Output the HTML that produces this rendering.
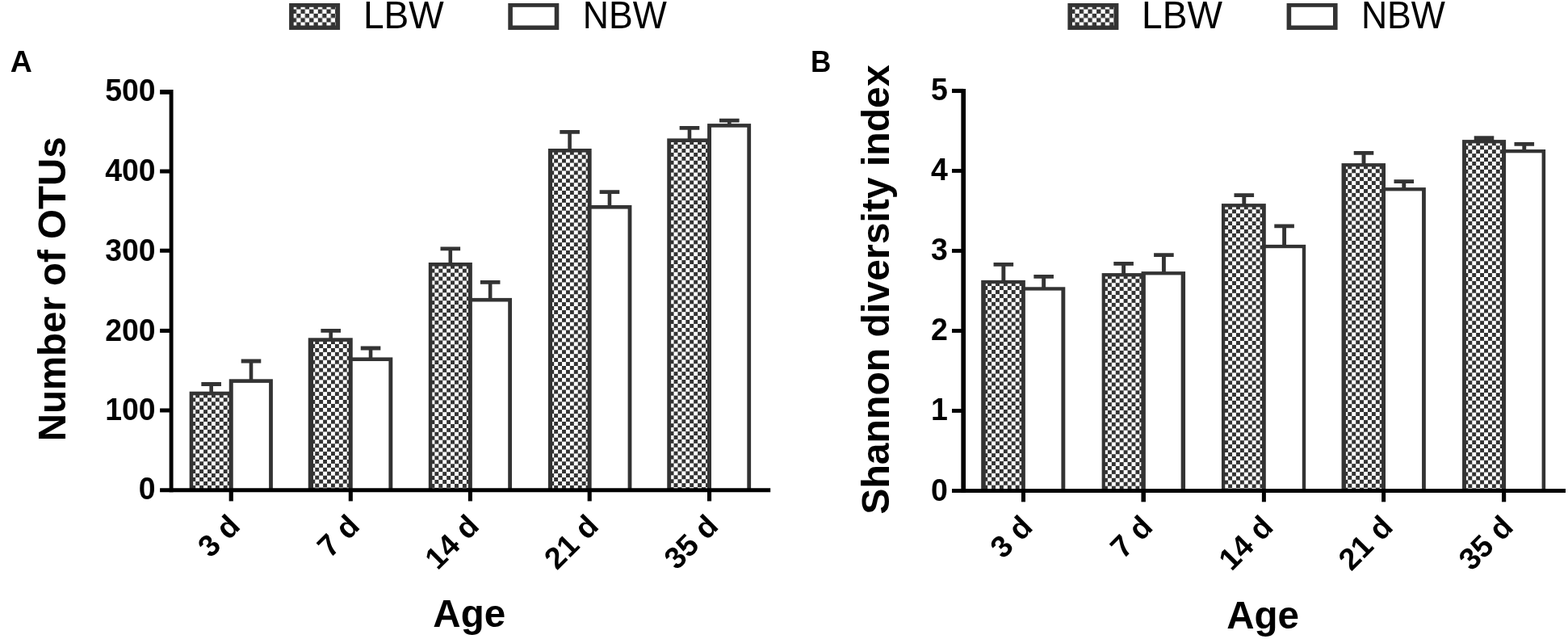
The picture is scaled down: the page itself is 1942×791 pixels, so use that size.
<!DOCTYPE html>
<html lang="en"><head><meta charset="utf-8"><title>Figure: Number of OTUs and Shannon diversity index by age (LBW vs NBW)</title>
<style>
html,body{margin:0;padding:0;background:#fff;}
body{width:1942px;height:791px;overflow:hidden;}
svg{display:block;font-family:"Liberation Sans",Arial,Helvetica,sans-serif;}
text{fill:#000;}
</style></head><body>
<svg width="1942" height="791" viewBox="0 0 1942 791">
<defs>
<pattern id="chk" width="9.86" height="9.86" patternUnits="userSpaceOnUse" x="2.63" y="2.77">
<rect width="9.86" height="9.86" fill="#fff"/><rect x="4.93" y="0" width="4.93" height="4.93" fill="#333333"/><rect x="0" y="4.93" width="4.93" height="4.93" fill="#333333"/>
</pattern>
<pattern id="chk2" width="10.66" height="10.66" patternUnits="userSpaceOnUse" x="3.71" y="2.2">
<rect width="10.66" height="10.66" fill="#fff"/><rect x="5.33" y="0" width="5.33" height="5.33" fill="#333333"/><rect x="0" y="5.33" width="5.33" height="5.33" fill="#333333"/>
</pattern>
</defs>
<rect width="1942" height="791" fill="#fff"/>
<g id="barsA">
<path d="M249.35 473.1h24.6v4.8h-10V485.7h-4.6V477.9h-10z" fill="#333333"/>
<rect x="234.65" y="484.7" width="54.1" height="122.05" fill="#333333"/><g transform="translate(234.65 484.7)"><rect x="4.6" y="4.6" width="44.5" height="117.45" fill="url(#chk)"/></g>
<path d="M298.7 444.6h24.6v4.8h-10V470.3h-4.6V449.4h-10z" fill="#333333"/>
<rect x="283.75" y="469.3" width="54.15" height="137.45" fill="#333333"/><g transform="translate(283.75 469.3)"><rect x="5" y="4.6" width="44.35" height="132.85" fill="#fff"/></g>
<path d="M397.4 406.9h24.6v4.8h-10V419.3h-4.6V411.7h-10z" fill="#333333"/>
<rect x="381.75" y="418.3" width="55" height="188.45" fill="#333333"/><g transform="translate(382.7 418.3)"><rect x="5.35" y="4.6" width="43.8" height="183.85" fill="url(#chk)"/></g>
<path d="M446.75 428.6h24.6v4.8h-10V443.4h-4.6V433.4h-10z" fill="#333333"/>
<rect x="431.85" y="442.4" width="54.45" height="164.35" fill="#333333"/><g transform="translate(431.85 442.4)"><rect x="4.9" y="4.6" width="44.65" height="159.75" fill="#fff"/></g>
<path d="M545.5 305.4h24.6v4.8h-10V326h-4.6V310.2h-10z" fill="#333333"/>
<rect x="530.8" y="325" width="54.05" height="281.75" fill="#333333"/><g transform="translate(530.8 325)"><rect x="4.5" y="4.6" width="44.65" height="277.15" fill="url(#chk)"/></g>
<path d="M594.85 346.9h24.6v4.8h-10V369.9h-4.6V351.7h-10z" fill="#333333"/>
<rect x="579.95" y="368.9" width="54.05" height="237.85" fill="#333333"/><g transform="translate(579.95 368.9)"><rect x="4.9" y="4.6" width="44.35" height="233.25" fill="#fff"/></g>
<path d="M693.3 161h24.6v4.8h-10V185h-4.6V165.8h-10z" fill="#333333"/>
<rect x="678.9" y="184" width="53.75" height="422.75" fill="#333333"/><g transform="translate(678.6 184)"><rect x="5.5" y="4.6" width="43.65" height="418.15" fill="url(#chk)"/></g>
<path d="M742.65 235.3h24.6v4.8h-10V255h-4.6V240.1h-10z" fill="#333333"/>
<rect x="727.75" y="254" width="54.65" height="352.75" fill="#333333"/><g transform="translate(727.75 254)"><rect x="4.9" y="4.6" width="44.95" height="348.15" fill="#fff"/></g>
<path d="M841.65 156h24.6v4.8h-10V172.4h-4.6V160.8h-10z" fill="#333333"/>
<rect x="826.25" y="171.4" width="54.75" height="435.35" fill="#333333"/><g transform="translate(826.95 171.4)"><rect x="4.2" y="4.6" width="44.95" height="430.75" fill="url(#chk)"/></g>
<path d="M891 146.7h24.6v4.8h-10V154.1h-4.6V151.5h-10z" fill="#333333"/>
<rect x="876.1" y="153.1" width="54" height="453.65" fill="#333333"/><g transform="translate(876.1 153.1)"><rect x="4.9" y="4.6" width="44.3" height="449.05" fill="#fff"/></g>
</g>
<g id="axesA" fill="#000">
<rect x="209.65" y="111" width="4.9" height="498.25"/>
<rect x="198.1" y="604.25" width="756.1" height="5"/>
<rect x="198.1" y="505.5" width="14" height="5"/>
<rect x="198.1" y="406.9" width="14" height="5"/>
<rect x="198.1" y="307.75" width="14" height="5"/>
<rect x="198.1" y="209.55" width="14" height="5"/>
<rect x="198.1" y="111.03" width="14" height="5.75"/>
<rect x="283.65" y="606.75" width="5.2" height="13.65"/>
<rect x="431.75" y="606.75" width="5.1" height="13.65"/>
<rect x="579.85" y="606.75" width="5.1" height="13.65"/>
<rect x="727.65" y="606.75" width="5.1" height="13.65"/>
<rect x="876" y="606.75" width="5.1" height="13.65"/>
</g>
<g id="labelsA">
<text transform="translate(192.6 618.35) scale(1.0000 1.0350)" text-anchor="end" font-size="37.4" font-weight="bold">0</text>
<text transform="translate(192.6 519.7) scale(1.0000 1.0350)" text-anchor="end" font-size="37.4" font-weight="bold">100</text>
<text transform="translate(192.6 421.5) scale(1.0000 1.0350)" text-anchor="end" font-size="37.4" font-weight="bold">200</text>
<text transform="translate(192.6 323.3) scale(1.0000 1.0350)" text-anchor="end" font-size="37.4" font-weight="bold">300</text>
<text transform="translate(192.6 223.9) scale(1.0000 1.0350)" text-anchor="end" font-size="37.4" font-weight="bold">400</text>
<text transform="translate(192.6 125.2) scale(1.0000 1.0350)" text-anchor="end" font-size="37.4" font-weight="bold">500</text>
<text transform="translate(299.25 653.3) rotate(-45)" text-anchor="end" font-size="37.7" font-weight="bold">3 d</text>
<text transform="translate(447.3 653.3) rotate(-45)" text-anchor="end" font-size="37.7" font-weight="bold">7 d</text>
<text transform="translate(595.4 653.3) rotate(-45)" text-anchor="end" font-size="37.7" font-weight="bold">14 d</text>
<text transform="translate(743.2 653.3) rotate(-45)" text-anchor="end" font-size="37.7" font-weight="bold">21 d</text>
<text transform="translate(891.55 653.3) rotate(-45)" text-anchor="end" font-size="37.7" font-weight="bold">35 d</text>
<text transform="translate(581.2 776.1) scale(1.0000 1.0200)" text-anchor="middle" font-size="47.5" font-weight="bold">Age</text>
<text transform="translate(80.9 357.9) rotate(-90) scale(1.0000 1.0200)" text-anchor="middle" font-size="47.45" font-weight="bold">Number of OTUs</text>
<text transform="translate(12.7 88.7)" text-anchor="start" font-size="37.5" font-weight="bold">A</text>
<text transform="translate(449.9 34.5) scale(1.0000 1.0260)" text-anchor="start" font-size="46.05">LBW</text>
<text transform="translate(721.7 34.5) scale(0.9690 1.0260)" text-anchor="start" font-size="46.05">NBW</text>
</g>
<g id="legendA">
<g transform="translate(358.1 4)"><rect width="63" height="32.95" fill="#333333"/><rect x="5.6" y="4.8" width="51.8" height="22.7" fill="url(#chk2)"/></g>
<g transform="translate(629.3 4)"><rect width="63" height="32.95" fill="#333333"/><rect x="5.6" y="4.8" width="51.8" height="22.7" fill="#fff"/></g>
</g>
<g id="barsB">
<path d="M1230.55 325h24.6v4.8h-9.85V347.9h-4.9V329.8h-9.85z" fill="#333333"/>
<rect x="1215.2" y="346.9" width="54.65" height="260.6" fill="#333333"/><g transform="translate(1215.6 346.4)"><rect x="5.2" y="4.8" width="44.25" height="256.3" fill="url(#chk)"/></g>
<path d="M1280.35 340h24.6v4.8h-9.85V356.3h-4.9V344.8h-9.85z" fill="#333333"/>
<rect x="1265.05" y="355.3" width="54.25" height="252.2" fill="#333333"/><g transform="translate(1265.05 354.8)"><rect x="4.8" y="4.8" width="44.55" height="247.9" fill="#fff"/></g>
<path d="M1379.3 323.9h24.6v4.8h-9.85V339.1h-4.9V328.7h-9.85z" fill="#333333"/>
<rect x="1364.65" y="338.1" width="54.2" height="269.4" fill="#333333"/><g transform="translate(1364.35 337.6)"><rect x="4.5" y="4.8" width="44.7" height="265.1" fill="url(#chk)"/></g>
<path d="M1429.1 313.3h24.6v4.8h-9.85V337.1h-4.9V318.1h-9.85z" fill="#333333"/>
<rect x="1413.55" y="336.1" width="54.5" height="271.4" fill="#333333"/><g transform="translate(1413.55 335.6)"><rect x="5.3" y="4.8" width="43.8" height="267.1" fill="#fff"/></g>
<path d="M1528.5 239.3h24.6v4.8h-9.85V253.1h-4.9V244.1h-9.85z" fill="#333333"/>
<rect x="1512.95" y="252.1" width="54.85" height="355.4" fill="#333333"/><g transform="translate(1513.55 251.6)"><rect x="3.7" y="4.8" width="45.75" height="351.1" fill="url(#chk)"/></g>
<path d="M1578.3 277.4h24.6v4.8h-9.85V303.9h-4.9V282.2h-9.85z" fill="#333333"/>
<rect x="1563" y="302.9" width="54.2" height="304.6" fill="#333333"/><g transform="translate(1563 302.4)"><rect x="4.8" y="4.8" width="45" height="300.3" fill="#fff"/></g>
<path d="M1676.7 186.9h24.6v4.8h-9.85V203.1h-4.9V191.7h-9.85z" fill="#333333"/>
<rect x="1661.55" y="202.1" width="54.45" height="405.4" fill="#333333"/><g transform="translate(1661.75 201.6)"><rect x="5.2" y="4.8" width="44.25" height="401.1" fill="url(#chk)"/></g>
<path d="M1726.5 222.3h24.6v4.8h-9.85V233.1h-4.9V227.1h-9.85z" fill="#333333"/>
<rect x="1711.2" y="232.1" width="54.65" height="375.4" fill="#333333"/><g transform="translate(1711.2 231.6)"><rect x="4.8" y="4.8" width="45.05" height="371.1" fill="#fff"/></g>
<rect x="1825.7" y="168.3" width="24.6" height="5.8" fill="#333333"/>
<rect x="1811.05" y="173.1" width="54.05" height="434.4" fill="#333333"/><g transform="translate(1810.75 172.6)"><rect x="5.2" y="4.8" width="44.15" height="430.1" fill="url(#chk)"/></g>
<path d="M1875.5 176h24.6v4.8h-9.85V186h-4.9V180.8h-9.85z" fill="#333333"/>
<rect x="1860.1" y="185" width="54.05" height="422.5" fill="#333333"/><g transform="translate(1860.1 184.5)"><rect x="5" y="4.8" width="44.5" height="418.2" fill="#fff"/></g>
</g>
<g id="axesB" fill="#000">
<rect x="1190.35" y="110" width="5.7" height="499.95"/>
<rect x="1179" y="605.05" width="760" height="4.9"/>
<rect x="1179" y="506.06" width="14.2" height="4.85"/>
<rect x="1179" y="407.06" width="14.2" height="4.85"/>
<rect x="1179" y="308.04" width="14.2" height="4.85"/>
<rect x="1179" y="209.03" width="14.2" height="4.85"/>
<rect x="1179" y="109.85" width="14.2" height="5.2"/>
<rect x="1264.95" y="607.5" width="5" height="13.8"/>
<rect x="1413.45" y="607.5" width="5.5" height="13.8"/>
<rect x="1562.9" y="607.5" width="5" height="13.8"/>
<rect x="1711.1" y="607.5" width="5" height="13.8"/>
<rect x="1860" y="607.5" width="5.2" height="13.8"/>
</g>
<g id="labelsB">
<text transform="translate(1173.8 619.5) scale(1.0000 1.0500)" text-anchor="end" font-size="37.5" font-weight="bold">0</text>
<text transform="translate(1173.8 520.46) scale(1.0000 1.0500)" text-anchor="end" font-size="37.5" font-weight="bold">1</text>
<text transform="translate(1173.8 421.42) scale(1.0000 1.0500)" text-anchor="end" font-size="37.5" font-weight="bold">2</text>
<text transform="translate(1173.8 322.38) scale(1.0000 1.0500)" text-anchor="end" font-size="37.5" font-weight="bold">3</text>
<text transform="translate(1173.8 223.34) scale(1.0000 1.0500)" text-anchor="end" font-size="37.5" font-weight="bold">4</text>
<text transform="translate(1173.8 124.3) scale(1.0000 1.0500)" text-anchor="end" font-size="37.5" font-weight="bold">5</text>
<text transform="translate(1280.85 654.3) rotate(-45)" text-anchor="end" font-size="37.9" font-weight="bold">3 d</text>
<text transform="translate(1429.6 654.3) rotate(-45)" text-anchor="end" font-size="37.9" font-weight="bold">7 d</text>
<text transform="translate(1578.8 654.3) rotate(-45)" text-anchor="end" font-size="37.9" font-weight="bold">14 d</text>
<text transform="translate(1727 654.3) rotate(-45)" text-anchor="end" font-size="37.9" font-weight="bold">21 d</text>
<text transform="translate(1876 654.3) rotate(-45)" text-anchor="end" font-size="37.9" font-weight="bold">35 d</text>
<text transform="translate(1564 777.9) scale(1.0000 1.0200)" text-anchor="middle" font-size="47.5" font-weight="bold">Age</text>
<text transform="translate(1100.9 358.5) rotate(-90) scale(1.0000 0.9900)" text-anchor="middle" font-size="48.15" font-weight="bold">Shannon diversity index</text>
<text transform="translate(1003.9 88.7) scale(0.9350 1.0000)" text-anchor="start" font-size="37.5" font-weight="bold">B</text>
<text transform="translate(1414.1 34.5) scale(1.0000 1.0260)" text-anchor="start" font-size="46.05">LBW</text>
<text transform="translate(1685.9 34.5) scale(0.9690 1.0260)" text-anchor="start" font-size="46.05">NBW</text>
</g>
<g id="legendB">
<g transform="translate(1322.4 4)"><rect width="63" height="32.95" fill="#333333"/><rect x="5.6" y="4.8" width="51.8" height="22.7" fill="url(#chk2)"/></g>
<g transform="translate(1593.6 4)"><rect width="63" height="32.95" fill="#333333"/><rect x="5.6" y="4.8" width="51.8" height="22.7" fill="#fff"/></g>
</g>
</svg>
</body></html>
